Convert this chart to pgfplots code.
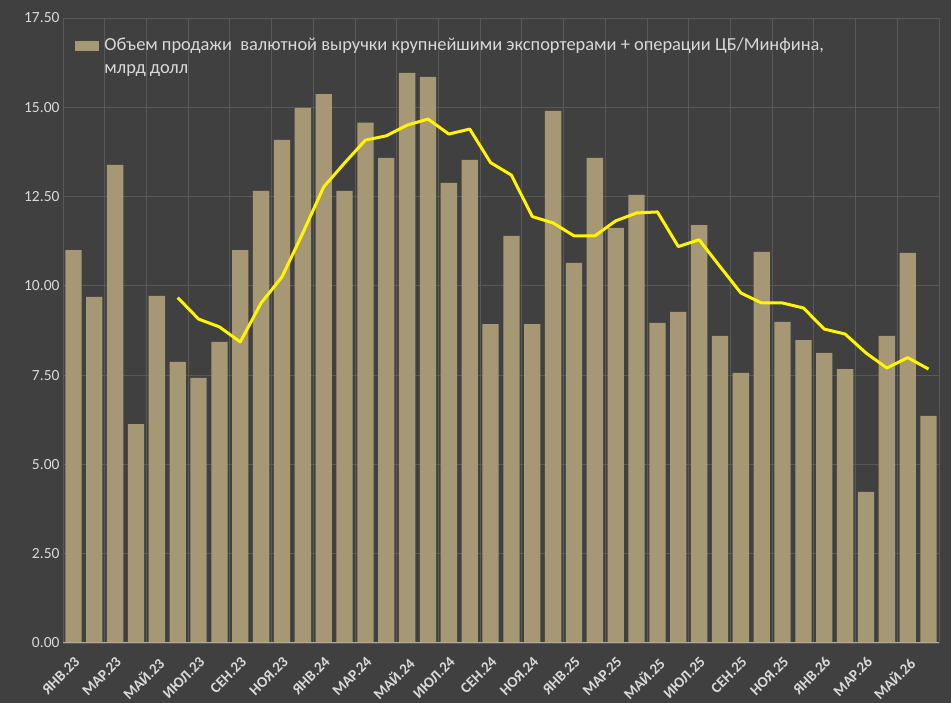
\documentclass[border=0pt]{standalone}
\usepackage{fontspec}
\setmainfont{Carlito}
\usepackage{pgfplots}
\usepackage{pgfplotstable}
\pgfplotsset{compat=1.18}
\definecolor{bg}{HTML}{404040}
\definecolor{barc}{HTML}{A69875}
\definecolor{lnc}{HTML}{FFF500}
\definecolor{gridc}{HTML}{595959}
\definecolor{txt}{HTML}{D9D9D9}
\definecolor{axc}{HTML}{B4AC98}
\pgfplotstableread{
x v
0 11.00
1 9.69
2 13.39
3 6.13
4 9.72
5 7.87
6 7.42
7 8.43
8 11.00
9 12.66
10 14.09
11 14.98
12 15.37
13 12.66
14 14.57
15 13.58
16 15.96
17 15.85
18 12.88
19 13.53
20 8.93
21 11.40
22 8.93
23 14.90
24 10.64
25 13.58
26 11.62
27 12.55
28 8.96
29 9.27
30 11.70
31 8.60
32 7.56
33 10.95
34 8.99
35 8.48
36 8.12
37 7.67
38 4.23
39 8.60
40 10.92
41 6.36
}\bars
\pgfplotstableread{
x v
5 9.67
6 9.07
7 8.85
8 8.43
9 9.52
10 10.25
11 11.48
12 12.77
13 13.44
14 14.08
15 14.20
16 14.50
17 14.67
18 14.25
19 14.39
20 13.45
21 13.10
22 11.94
23 11.76
24 11.40
25 11.40
26 11.82
27 12.04
28 12.07
29 11.10
30 11.29
31 10.54
32 9.80
33 9.52
34 9.52
35 9.38
36 8.79
37 8.65
38 8.12
39 7.70
40 7.99
41 7.67
}\avg
\begin{document}
\begin{tikzpicture}
\fill[bg] (0pt,0pt) rectangle (951pt,703pt);
\begin{axis}[
  at={(63pt,60pt)}, anchor=south west, scale only axis,
  width=876pt, height=625pt,
  xmin=-0.5, xmax=41.5, ymin=0, ymax=17.5,
  axis line style={draw=none},
  major tick length=0pt, minor tick length=0pt,
  ytick={0,2.5,5,7.5,10,12.5,15,17.5},
  ymajorgrids, major grid style={gridc, line width=0.8pt},
  xtick={0,2,...,40},
  xticklabels={ЯНВ.23,МАР.23,МАЙ.23,ИЮЛ.23,СЕН.23,НОЯ.23,ЯНВ.24,МАР.24,МАЙ.24,ИЮЛ.24,СЕН.24,НОЯ.24,ЯНВ.25,МАР.25,МАЙ.25,ИЮЛ.25,СЕН.25,НОЯ.25,ЯНВ.26,МАР.26,МАЙ.26},
  minor xtick={-0.5,1.5,...,41.5},
  xminorgrids, minor grid style={gridc, line width=0.8pt},
  x tick label style={rotate=45, anchor=north east, font=\bfseries\fontsize{15}{15}\selectfont, text=txt, inner sep=0pt, xshift=-9pt, yshift=-9pt},
  y tick label style={font=\fontsize{15.5}{16}\selectfont, text=txt},
  yticklabel style={/pgf/number format/.cd, fixed, fixed zerofill, precision=2, assume math mode=true},
  legend style={at={(0.014,0.972)}, anchor=north west, draw=none, fill=none, text=txt,
    font=\fontsize{18.4}{23}\selectfont, cells={align=left}, inner sep=0pt,
    /tikz/every even column/.append style={column sep=4pt}},
  legend image code/.code={\fill[barc] (0pt,5.5pt) rectangle (24pt,15.5pt);},
]
\addplot[ybar, bar width=16.3pt, bar shift=0pt, fill=barc, draw=none] table[x=x,y=v] {\bars};
\addlegendentry{\hspace{3pt}Объем продажи~ валютной выручки крупнейшими экспортерами + операции ЦБ/Минфина,\\\hspace{3pt}млрд долл}
\addplot[lnc, line width=3pt, line join=round, forget plot] table[x=x,y=v] {\avg};
\draw[axc, line width=1.5pt] (axis cs:-0.5,0) -- (axis cs:41.5,0);
\end{axis}
\pgfresetboundingbox
\useasboundingbox (0pt,0pt) rectangle (951pt,703pt);
\end{tikzpicture}
\end{document}
